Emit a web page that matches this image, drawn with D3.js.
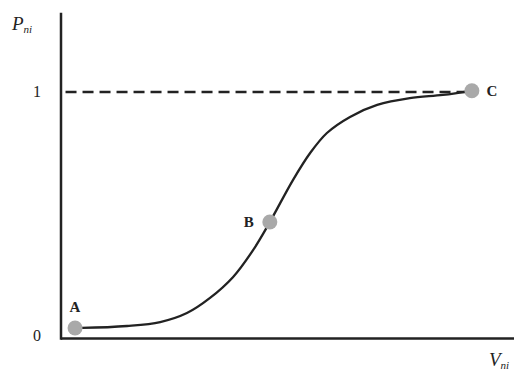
<!DOCTYPE html>
<html>
<head>
<meta charset="utf-8">
<script src="https://cdn.jsdelivr.net/npm/d3@7"></script>
<style>
  body { margin: 0; background: #fff; }
  svg { display: block; }
  text { font-family: "Liberation Serif", "DejaVu Serif", serif; fill: #222; }
</style>
</head>
<body>
<svg width="514" height="372"></svg>
<script>
// curve (V in arbitrary units, P between 0 and 1)
var curveV = [0.31, 0.46, 1.46, 2.19, 2.78, 3.29, 3.80, 4.24, 4.61, 5.12, 5.50, 5.87, 6.38, 6.98, 7.70, 8.43, 9.07];
var curveP = [0.033, 0.033, 0.041, 0.057, 0.094, 0.156, 0.242, 0.352, 0.467, 0.639, 0.750, 0.832, 0.898, 0.947, 0.975, 0.988, 1.005];

var pointNames = ["A", "B", "C"];
var pointV = [0.31, 4.61, 9.07];
var pointP = [0.033, 0.467, 1.005];

var yTicks = [0, 1];
var yTickLabels = ["0", "1"];

var svg = d3.select("svg");

var x = d3.scaleLinear().domain([0, 10]).range([61, 514]);
var y = d3.scaleLinear().domain([0, 1]).range([336, 92]);

// axis frame
svg.append("line")
  .attr("x1", x(0)).attr("x2", x(0))
  .attr("y1", y(1.325)).attr("y2", y(-0.015))
  .attr("stroke", "#222").attr("stroke-width", 2.5);

svg.append("line")
  .attr("x1", x(0)).attr("x2", x(10))
  .attr("y1", y(-0.01)).attr("y2", y(-0.01))
  .attr("stroke", "#222").attr("stroke-width", 2.5);

// tick labels only
var yAxis = svg.append("g")
  .attr("transform", "translate(" + (x(0) - 17) + ",0)")
  .call(d3.axisLeft(y)
    .tickValues(yTicks)
    .tickSize(0)
    .tickFormat(function(d, i) { return yTickLabels[i]; }));
yAxis.select(".domain").remove();
yAxis.selectAll("text")
  .attr("font-family", "Liberation Serif")
  .attr("font-size", 16)
  .attr("fill", "#333")
  .attr("dy", "0.3em");

// dashed asymptote
svg.append("line")
  .attr("x1", x(0.1)).attr("x2", x(8.95))
  .attr("y1", y(1)).attr("y2", y(1))
  .attr("stroke", "#222").attr("stroke-width", 2.6)
  .attr("stroke-dasharray", "11,6");

// curve
var curve = curveV.map(function(v, i) { return [v, curveP[i]]; });
var line = d3.line()
  .x(function(d) { return x(d[0]); })
  .y(function(d) { return y(d[1]); })
  .curve(d3.curveCatmullRom.alpha(0.5));

svg.append("path")
  .datum(curve)
  .attr("d", line)
  .attr("fill", "none")
  .attr("stroke", "#222")
  .attr("stroke-width", 2.3);

// marked points
var pts = pointNames.map(function(n, i) { return { name: n, v: pointV[i], p: pointP[i] }; });

svg.selectAll(".pt")
  .data(pts)
  .enter().append("circle")
    .attr("class", "pt")
    .attr("cx", function(d) { return x(d.v); })
    .attr("cy", function(d) { return y(d.p); })
    .attr("r", 7.5)
    .attr("fill", "#a9a9a9");

var labelOffset = { A: [0, -16], B: [-21, 5], C: [20, 5] };
svg.selectAll(".ptlabel")
  .data(pts)
  .enter().append("text")
    .attr("class", "ptlabel")
    .attr("x", function(d) { return x(d.v) + labelOffset[d.name][0]; })
    .attr("y", function(d) { return y(d.p) + labelOffset[d.name][1]; })
    .attr("text-anchor", "middle")
    .attr("font-size", 15)
    .attr("font-weight", "bold")
    .text(function(d) { return d.name; });

// axis titles
var pt = svg.append("text")
  .attr("x", 12).attr("y", 30)
  .attr("font-size", 19)
  .attr("font-style", "italic");
pt.append("tspan").text("P");
pt.append("tspan").attr("font-size", 11).attr("dy", 3).text("ni");

var vt = svg.append("text")
  .attr("x", 489).attr("y", 366)
  .attr("font-size", 19)
  .attr("font-style", "italic");
vt.append("tspan").text("V");
vt.append("tspan").attr("font-size", 11).attr("dy", 3).text("ni");
</script>
</body>
</html>
